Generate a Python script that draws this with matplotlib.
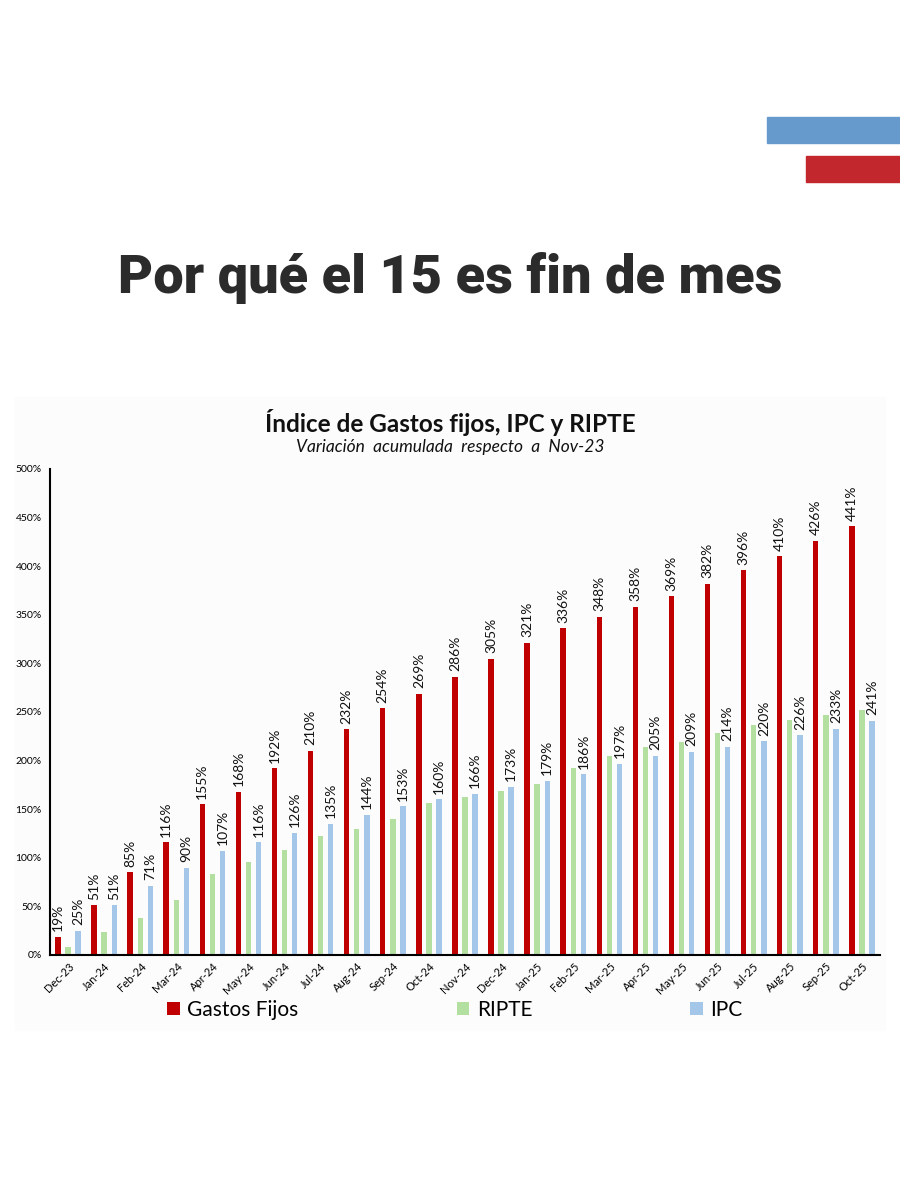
import matplotlib
matplotlib.use("Agg")
import matplotlib.pyplot as plt
import numpy as np
from matplotlib.patches import Rectangle

# Data
meses = ["Dec-23", "Jan-24", "Feb-24", "Mar-24", "Apr-24", "May-24", "Jun-24",
         "Jul-24", "Aug-24", "Sep-24", "Oct-24", "Nov-24", "Dec-24", "Jan-25",
         "Feb-25", "Mar-25", "Apr-25", "May-25", "Jun-25", "Jul-25", "Aug-25",
         "Sep-25", "Oct-25"]
gastos_fijos = [19, 51, 85, 116, 155, 168, 192, 210, 232, 254, 269, 286, 305,
                321, 336, 348, 358, 369, 382, 396, 410, 426, 441]
ripte = [8, 24, 38, 57, 83, 96, 108, 122, 130, 140, 156, 163, 169, 176, 192,
         205, 214, 219, 228, 237, 242, 247, 252]
ipc = [25, 51, 71, 90, 107, 116, 126, 135, 144, 153, 160, 166, 173, 179, 186,
       197, 205, 209, 214, 220, 226, 233, 241]
yticks = [0, 50, 100, 150, 200, 250, 300, 350, 400, 450, 500]

RED = "#C00000"
GREEN = "#B3DFA0"
BLUE = "#A4C6E8"
FONT = "Lato"

fig = plt.figure(figsize=(9, 12), dpi=100)
fig.patch.set_facecolor("white")

# decorative stripes top right
fig.patches.append(Rectangle((767 / 900, 1 - 143 / 1200), 133 / 900, 26 / 1200,
                             transform=fig.transFigure, color="#6699CC", zorder=-5))
fig.patches.append(Rectangle((806 / 900, 1 - 182 / 1200), 94 / 900, 26 / 1200,
                             transform=fig.transFigure, color="#C1272D", zorder=-5))
# faint chart panel
fig.patches.append(Rectangle((15 / 900, 1 - 1030 / 1200), 870 / 900, 633 / 1200,
                             transform=fig.transFigure, color="#FCFCFC", zorder=-10))

fig.text(0.5, 1 - 278 / 1200, "Por qué el 15 es fin de mes", ha="center", va="center",
         fontsize=39, fontweight="black", family="Roboto", color="#2B2B2B")

fig.text(450 / 900, 1 - 422 / 1200, "Índice de Gastos fijos, IPC y RIPTE", ha="center",
         va="center", fontsize=17.5, fontweight="bold", family=FONT, color="#111111")
fig.text(450 / 900, 1 - 447 / 1200, "Variación  acumulada  respecto  a  Nov-23", ha="center",
         va="center", fontsize=12.5, style="italic", family=FONT, color="#111111")

ax = fig.add_axes([50 / 900, 1 - 955 / 1200, 830 / 900, 486 / 1200])
ax.set_facecolor("none")

x = np.arange(len(meses))
w = 0.15
off = 0.28
b1 = ax.bar(x - off, gastos_fijos, w, color=RED, label="Gastos Fijos")
b2 = ax.bar(x, ripte, w, color=GREEN, label="RIPTE")
b3 = ax.bar(x + off, ipc, w, color=BLUE, label="IPC")

for xi, v in zip(x, gastos_fijos):
    ax.annotate(f"{v}%", (xi - off, v), xytext=(0, 4), textcoords="offset points",
                rotation=90, ha="center", va="bottom", fontsize=10, family=FONT, color="#111111")
for xi, v in zip(x, ipc):
    ax.annotate(f"{v}%", (xi + off, v), xytext=(0, 4), textcoords="offset points",
                rotation=90, ha="center", va="bottom", fontsize=10, family=FONT, color="#111111")

ax.set_xlim(-0.5, len(meses) - 0.5)
ax.set_ylim(0, 500)
ax.set_yticks(yticks)
ax.set_yticklabels([f"{t}%" for t in yticks], fontsize=7.5, family=FONT)
ax.set_xticks(x)
ax.set_xticklabels(meses, rotation=45, ha="right", rotation_mode="anchor",
                   fontsize=8, family=FONT)
ax.tick_params(axis="both", length=0, pad=6)
ax.tick_params(axis="x", pad=4)
for s in ["top", "right"]:
    ax.spines[s].set_visible(False)
ax.spines["left"].set_linewidth(1.5)
ax.spines["bottom"].set_linewidth(1.5)

leg = fig.legend(handles=[b1, b2, b3], labels=["Gastos Fijos", "RIPTE", "IPC"],
                 loc="center", bbox_to_anchor=(455 / 900, 1 - 1010 / 1200), ncol=3,
                 frameon=False, prop={"family": FONT, "size": 15},
                 handlelength=0.6, handleheight=0.6, handletextpad=0.35, columnspacing=7.6)

fig.savefig("out.png", dpi=100)
